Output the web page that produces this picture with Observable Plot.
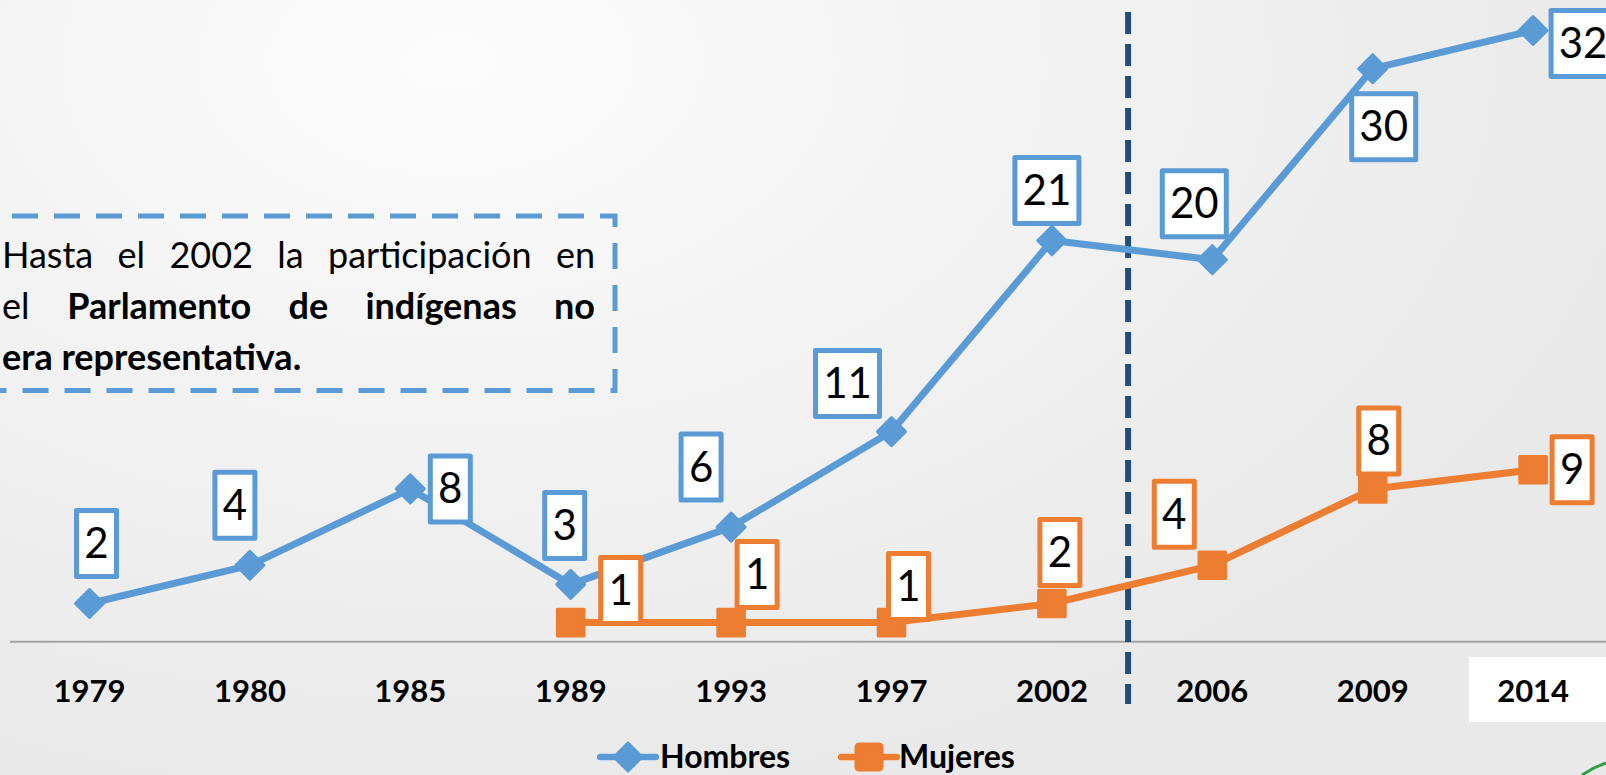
<!DOCTYPE html>
<html>
<head>
<meta charset="utf-8">
<script src="https://cdn.jsdelivr.net/npm/d3@7"></script>
<script src="https://cdn.jsdelivr.net/npm/@observablehq/plot@0.6"></script>
<style>
  html, body { margin: 0; padding: 0; }
  body {
    width: 1606px; height: 775px; overflow: hidden;
    font-family: Lato, "Open Sans", sans-serif;
    background: radial-gradient(ellipse 75% 95% at 28% 8%, #fcfcfc 0%, #f3f3f3 45%, #e9e9ea 100%);
  }
  #wrap { position: relative; width: 1606px; height: 775px; }
  #tickbox { position: absolute; left: 1469px; top: 657px; width: 137px; height: 65px; background: #fff; }
  #chart { position: absolute; left: 0; top: 0; }
  #note { position: absolute; left: 0; top: 0; width: 640px; height: 420px; }
  #note svg { position: absolute; left: 0; top: 0; }
  #note .l { position: absolute; left: 2px; width: 593px; font-size: 36px; line-height: 51px; color: #000; white-space: nowrap; }
  #note .j { text-align: justify; text-align-last: justify; white-space: normal; }
  #legend { position: absolute; left: 0; top: 730px; width: 1606px; height: 45px; }
  #legend .item { position: absolute; top: 0; height: 45px; }
  #legend .txt { position: absolute; top: 10px; font-size: 32px; line-height: 32px; font-weight: bold; color: #000; white-space: nowrap; }
  #deco { position: absolute; left: 0; top: 0; pointer-events: none; }
</style>
</head>
<body>
<div id="wrap">
  <div id="tickbox"></div>
  <div id="chart"></div>
  <div id="note">
    <svg width="640" height="420">
      <rect x="-30" y="216" width="645" height="174.5" fill="none" stroke="#5b9bd5" stroke-width="5" stroke-dasharray="26,16"></rect>
    </svg>
    <div class="l j" style="top:229px">Hasta el 2002 la participación en</div>
    <div class="l j" style="top:280px">el <b>Parlamento de indígenas no</b></div>
    <div class="l" style="top:331px"><b>era representativa.</b></div>
  </div>
  <div id="legend"></div>
  <svg id="deco" width="1606" height="775">
    <path d="M1582,775 Q1594,767 1606,763" fill="none" stroke="#2e9e48" stroke-width="3"></path>
  </svg>
</div>
<script>
// ---- data ----
const years   = ["1979", "1980", "1985", "1989", "1993", "1997", "2002", "2006", "2009", "2014"];
const hombres = [2, 4, 8, 3, 6, 11, 21, 20, 30, 32];
const mujeres = [null, null, null, 1, 1, 1, 2, 4, 8, 9];
const seriesNames = ["Hombres", "Mujeres"];

// ---- layout (label offsets in px from each point) ----
const hombresLabelOffsets = [[7,-60],[-15,-60],[40,0],[-6,-59],[-30,-60],[-44,-48],[-5,-50],[-18,-56],[11,58],[50,13]];
const mujeresLabelOffsets = [null,null,null,[50,-32],[26,-48],[17,-36],[8,-51],[-38,-51],[6,-48],[39,0]];
const dividerAt = 6.475;          // between 2002 and 2006
const dividerSpan = [32.94, -3.29];

const BLUE = "#5b9bd5", ORANGE = "#ed7d31", NAVY = "#1f4e79";

const hRows = years.map((y, i) => ({ i, year: y, value: hombres[i] })).filter(d => d.value != null);
const mRows = years.map((y, i) => ({ i, year: y, value: mujeres[i] })).filter(d => d.value != null);

const boxSymbol = (w, h) => ({ draw(ctx) { ctx.rect(-w / 2, -h / 2, w, h); } });

const labelMarks = [];
function addLabels(rows, offsets, color) {
  rows.forEach(d => {
    const [dx, dy] = offsets[d.i];
    const w = String(d.value).length > 1 ? 64 : 40;
    labelMarks.push(Plot.dot([d], { x: "i", y: "value", dx, dy, symbol: boxSymbol(w, 66), r: 10,
      fill: "#fff", stroke: color, strokeWidth: 5, strokeLinejoin: "round" }));
    labelMarks.push(Plot.text([d], { x: "i", y: "value", dx, dy: dy + 1, text: r => String(r.value),
      fontSize: 42, fill: "#000", fontFamily: "Lato, sans-serif" }));
  });
}
addLabels(hRows, hombresLabelOffsets, BLUE);
addLabels(mRows, mujeresLabelOffsets, ORANGE);

const W = 1606, H = 730, PX = 19.1, Y0 = 641.2;

const chart = Plot.plot({
  width: W, height: H,
  marginLeft: 10, marginRight: 0, marginTop: 0, marginBottom: H - 642,
  x: { type: "linear", domain: [0, years.length - 1], range: [89, 1532.6] },
  y: { type: "linear", domain: [0, 33.5], range: [Y0, Y0 - 33.5 * PX], axis: null },
  style: { background: "transparent", fontFamily: "Lato, sans-serif", overflow: "visible" },
  marks: [
    Plot.ruleY([0], { stroke: "#a3a3a3", strokeWidth: 2 }),
    Plot.axisX(d3.range(years.length), { tickFormat: i => years[i], tickSize: 0, tickPadding: 37,
      fontSize: 31, fontWeight: "bold", color: "#000", label: null }),
    Plot.ruleX([dividerAt], { y1: dividerSpan[0], y2: dividerSpan[1], stroke: NAVY, strokeWidth: 6, strokeDasharray: "22,10" }),
    Plot.line(hRows, { x: "i", y: "value", stroke: BLUE, strokeWidth: 7 }),
    Plot.line(mRows, { x: "i", y: "value", stroke: ORANGE, strokeWidth: 7 }),
    Plot.dot(hRows, { x: "i", y: "value", symbol: "diamond2", r: 12.6, fill: BLUE, stroke: BLUE, strokeWidth: 3, strokeLinejoin: "round" }),
    Plot.dot(mRows, { x: "i", y: "value", symbol: "square", r: 15, fill: ORANGE, stroke: ORANGE, strokeWidth: 3, strokeLinejoin: "round" }),
    ...labelMarks
  ]
});
document.getElementById("chart").appendChild(chart);

// ---- legend ----
const legend = d3.select("#legend");
const legendItems = [
  { name: seriesNames[0], color: BLUE, shape: "diamond", x: 597, tx: 660 },
  { name: seriesNames[1], color: ORANGE, shape: "square", x: 838, tx: 899 }
];
legendItems.forEach(it => {
  const s = legend.append("svg").attr("class", "item").style("left", it.x + "px").attr("width", 62).attr("height", 45);
  s.append("line").attr("x1", 3).attr("x2", 59).attr("y1", 27).attr("y2", 27)
    .attr("stroke", it.color).attr("stroke-width", 6.5).attr("stroke-linecap", "round");
  if (it.shape === "diamond") {
    s.append("path").attr("d", "M31,13 L45,27 L31,41 L17,27 Z").attr("fill", it.color)
      .attr("stroke", it.color).attr("stroke-width", 3).attr("stroke-linejoin", "round");
  } else {
    s.append("rect").attr("x", 18).attr("y", 14).attr("width", 26).attr("height", 26).attr("rx", 3)
      .attr("fill", it.color).attr("stroke", it.color).attr("stroke-width", 3).attr("stroke-linejoin", "round");
  }
  legend.append("div").attr("class", "txt").style("left", it.tx + "px").text(it.name);
});
</script>
</body>
</html>
